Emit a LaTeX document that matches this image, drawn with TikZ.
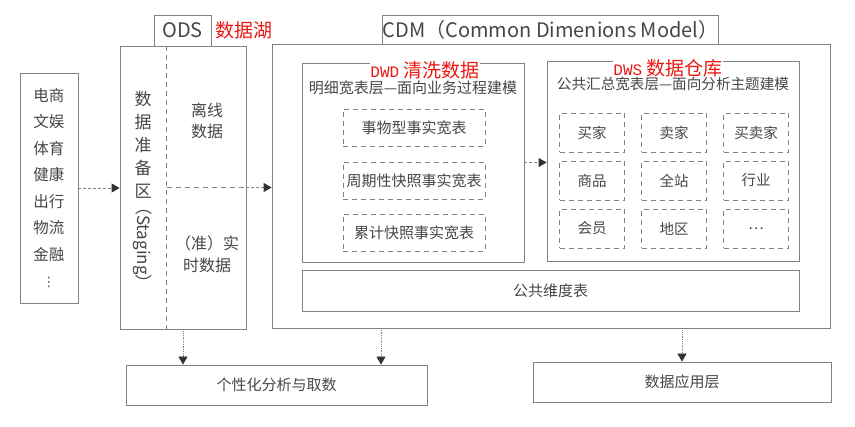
\documentclass[tikz,border=0pt]{standalone}
\usepackage{fontspec}
\setmainfont{Noto Sans CJK SC}
\newfontfamily\latinmono{Liberation Mono}
\newfontfamily\symbolfont{DejaVu Sans}
\usetikzlibrary{arrows.meta,positioning}

\definecolor{linegray}{RGB}{130,130,130}
\definecolor{txtgray}{RGB}{70,70,70}
\definecolor{annored}{RGB}{236,24,20}
\newcommand{\setfs}[2]{\fontsize{#1}{#2}\selectfont}

\tikzset{
  box/.style={draw=linegray, line width=0.8pt, inner sep=0pt, text=txtgray, align=center},
  cell/.style={box, dash pattern=on 5pt off 4pt},
  div/.style={draw=linegray, line width=0.8pt, dash pattern=on 5pt off 4pt},
  txt/.style={text=txtgray, inner sep=0pt, align=center},
  redlbl/.style={text=annored, fill=white, inner sep=0pt},
  flow/.style={draw=linegray, line width=0.8pt, densely dashed, -{Triangle[length=8pt,width=9pt,color=black!80]}},
  down/.style={draw=linegray, line width=0.8pt, densely dotted, -{Triangle[length=8pt,width=9pt,color=black!80]}},
}

\begin{document}
\begin{tikzpicture}[x=1pt, y=-1pt]
    \useasboundingbox (0,0) rectangle (855,427);

    % Data sources
    \node[box, minimum width=58pt, minimum height=230pt, font=\setfs{15.5}{26.5}] (src) at (49,188)
        {电商\\文娱\\体育\\健康\\出行\\物流\\金融\\{\symbolfont\setfs{13}{26.5}⋮}};

    % ODS
    \node[box, minimum width=126pt, minimum height=283pt] (ods) at (183,187.5) {};
    \node[box, minimum width=57pt, minimum height=31pt, font=\setfs{20}{22}] (odstab) at (182.5,30.5) {ODS};
    \node[redlbl, right=4pt of odstab, font=\setfs{19}{21}] (lake) {数据湖};
    \draw[div] ([xshift=47pt]ods.north west) -- ([xshift=47pt]ods.south west);
    \draw[div] ([xshift=47pt]ods.west) -- (ods.east);
    \node[txt, font=\setfs{17}{23}] (stg) at (143,144.5) {数\\据\\准\\备\\区};
    \node[txt, font=\setfs{17}{20}, rotate=-90] (stgen) at (143,245) {（Staging）};
    \node[txt, font=\setfs{16}{21}] (offline) at (207,121) {离线\\数据};
    \node[txt, font=\setfs{16}{22}] (realtime) at (207,254) {（准）实\\时数据};

    % CDM
    \node[box, minimum width=558pt, minimum height=284pt] (cdm) at (551,186) {};
    \node[box, minimum width=311pt, minimum height=29pt, font=\setfs{20}{22}] (cdmtab) at (550.5,29.5)
        {CDM（Common Dimenions Model）};

    % DWD
    \node[box, minimum width=222pt, minimum height=199pt] (dwd) at (413,162.5) {};
    \node[redlbl, font=\setfs{19}{21}] (dwdred) at (425,70) {{\latinmono\setfs{16}{18}DWD} 清洗数据};
    \node[txt, font=\setfs{15}{17}] (dwdtitle) at (413,88) {明细宽表层—面向业务过程建模};
    \foreach \t [count=\i] in {事物型事实宽表,周期性快照事实宽表,累计快照事实宽表}
        \node[cell, minimum width=142pt, minimum height=37pt, font=\setfs{15}{17}] (fact\i) at (414,{75.5+52.5*\i}) {\t};

    % DWS
    \node[box, minimum width=252pt, minimum height=200pt] (dws) at (673,161) {};
    \node[redlbl, font=\setfs{19}{21}] (dwsred) at (668,68) {{\latinmono\setfs{16}{18}DWS} 数据仓库};
    \node[txt, font=\setfs{14.6}{17}] (dwstitle) at (673,84) {公共汇总宽表层—面向分析主题建模};
    \foreach \t/\c/\r in {买家/1/1,卖家/2/1,买卖家/3/1,商品/1/2,全站/2/2,行业/3/2,会员/1/3,地区/2/3,\ldots/3/3}
        \node[cell, minimum width=65pt, minimum height=39pt, font=\setfs{14.5}{17}] (dim-\c-\r) at ({510+82*\c},{84.5+48*\r}) {\t};

    % Common dimensions
    \node[box, minimum width=497pt, minimum height=41pt, font=\setfs{15}{17}] (pubdim) at (550.5,290.5) {公共维度表};

    % Outputs
    \node[box, minimum width=301pt, minimum height=40pt, font=\setfs{15}{17}] (ana) at (276.5,385) {个性化分析与取数};
    \node[box, minimum width=298pt, minimum height=40pt, font=\setfs{15}{17}] (app) at (682,382) {数据应用层};

    % Arrows
    \draw[flow] (src.east) -- (src.east -| ods.west);
    \draw[flow] (ods.east) -- (ods.east -| cdm.west);
    \draw[flow] (dwd.east) -- (dwd.east -| dws.west);
    \coordinate (cdmout) at (381,328);
    \draw[down] (ods.south) -- (ods.south |- ana.north);
    \draw[down] (cdmout) -- (cdmout |- ana.north);
    \draw[down] (app.north |- cdm.south) -- (app.north);

\end{tikzpicture}
\end{document}
